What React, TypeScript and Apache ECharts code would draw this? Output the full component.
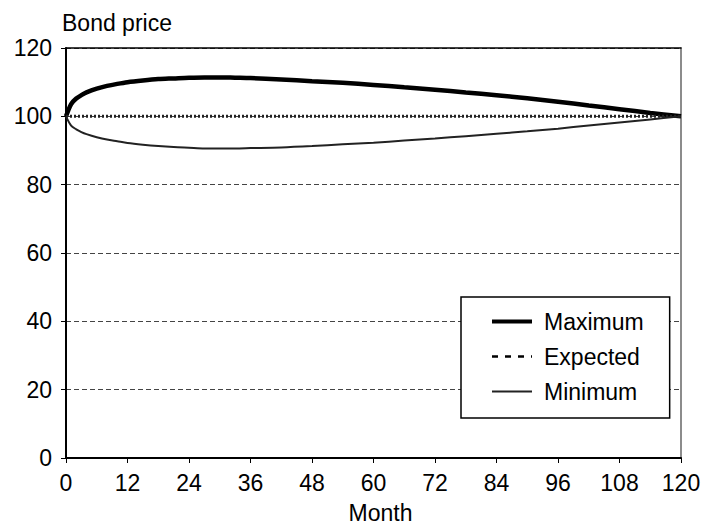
import React, { useEffect, useRef } from "react";
import * as echarts from "echarts";

const months = [0, 1, 2, 3, 4, 6, 8, 10, 12, 15, 18, 21, 24, 27, 30, 33, 36, 42, 48, 54, 60, 66, 72, 78, 84, 90, 96, 102, 108, 114, 120];
const maximum = [100, 103.6, 105.2, 106.2, 107, 108.1, 108.9, 109.5, 110, 110.5, 110.9, 111.1, 111.3, 111.4, 111.4, 111.3, 111.2, 110.8, 110.3, 109.8, 109.2, 108.5, 107.8, 107.0, 106.2, 105.3, 104.3, 103.2, 102.1, 101.0, 100];
const expected = [100, 100, 100, 100, 100, 100, 100, 100, 100, 100, 100, 100, 100, 100, 100, 100, 100, 100, 100, 100, 100, 100, 100, 100, 100, 100, 100, 100, 100, 100, 100];
const minimum = [100, 97.3, 96.2, 95.4, 94.8, 93.9, 93.2, 92.7, 92.2, 91.7, 91.3, 91.0, 90.8, 90.6, 90.6, 90.6, 90.7, 90.9, 91.3, 91.8, 92.3, 92.9, 93.5, 94.2, 94.9, 95.6, 96.4, 97.3, 98.2, 99.1, 100];

const seriesNames = ["Maximum", "Expected", "Minimum"];
const FONT = "'Liberation Sans', Arial, Helvetica, sans-serif";
const FS = 23;

export default function App() {
  const ref = useRef<HTMLDivElement>(null);
  useEffect(() => {
    if (!ref.current) return;
    const chart = echarts.init(ref.current, null, { renderer: "svg" });
    const pair = (ys: number[]) => months.map((m, i) => [m, ys[i]]);
    const hidden = { opacity: 0, color: "rgba(0,0,0,0)", borderWidth: 0 };
    chart.setOption({
      animation: false,
      backgroundColor: "#fff",
      textStyle: { fontFamily: FONT },
      title: {
        text: "Bond price",
        left: 56,
        top: 11,
        padding: [0, 0, 0, 6],
        textStyle: { fontSize: FS, fontWeight: "normal", color: "#000", fontFamily: FONT },
      },
      grid: { left: 66, top: 48, width: 615, height: 417 },
      legend: {
        orient: "vertical",
        left: 461,
        top: 297,
        backgroundColor: "#fff",
        borderColor: "#000",
        borderWidth: 1.5,
        borderRadius: 0,
        padding: [13, 26, 15, 29],
        itemGap: 12,
        itemWidth: 40,
        itemHeight: 14,
        textStyle: { fontSize: FS, color: "#000", fontFamily: FONT, padding: [0, 0, 0, 7] },
        data: [
          { name: seriesNames[0], itemStyle: hidden, lineStyle: { width: 4, color: "#000", type: "solid" } },
          { name: seriesNames[1], itemStyle: hidden, lineStyle: { type: [6, 7], width: 2.5, color: "#000" } },
          { name: seriesNames[2], itemStyle: hidden, lineStyle: { width: 2, color: "#222", type: "solid" } },
        ],
      },
      xAxis: [
        {
          type: "value",
          min: 0,
          max: 120,
          interval: 12,
          name: "Month",
          nameLocation: "middle",
          nameGap: 43,
          nameTextStyle: { fontSize: FS, color: "#000", fontFamily: FONT, padding: [0, 0, 0, 14] },
          axisLine: { onZero: false, lineStyle: { color: "#000", width: 2 } },
          axisTick: { length: 5, lineStyle: { color: "#000", width: 1 } },
          axisLabel: { fontSize: FS, color: "#000", margin: 13, fontFamily: FONT },
          splitLine: { show: false },
        },
        {
          type: "value",
          position: "top",
          min: 0,
          max: 120,
          interval: 12,
          axisLine: { onZero: false, lineStyle: { color: "#000", width: 1.5 } },
          axisTick: { show: false },
          axisLabel: { show: false },
          splitLine: { show: false },
        },
      ],
      yAxis: [
        {
          type: "value",
          min: 0,
          max: 120,
          interval: 20,
          axisLine: { show: true, onZero: false, lineStyle: { color: "#000", width: 2 } },
          axisTick: { show: true, length: 5, lineStyle: { color: "#000", width: 1 } },
          axisLabel: { fontSize: FS, color: "#000", margin: 14, fontFamily: FONT },
          splitLine: { show: true, lineStyle: { color: "#444", width: 1, type: [5, 3] } },
        },
        {
          type: "value",
          position: "right",
          min: 0,
          max: 120,
          interval: 20,
          axisLine: { show: true, onZero: false, lineStyle: { color: "#666", width: 1.5 } },
          axisTick: { show: false },
          axisLabel: { show: false },
          splitLine: { show: false },
        },
      ],
      series: [
        {
          name: seriesNames[0],
          type: "line",
          data: pair(maximum),
          smooth: 0.3,
          showSymbol: false,
          symbol: "none",
          lineStyle: { color: "#000", width: 4.5 },
          itemStyle: { color: "#000" },
          z: 3,
        },
        {
          name: seriesNames[1],
          type: "line",
          data: pair(expected),
          showSymbol: false,
          symbol: "none",
          lineStyle: { color: "#222", width: 3, type: [2, 2] },
          itemStyle: { color: "#000" },
          z: 4,
        },
        {
          name: seriesNames[2],
          type: "line",
          data: pair(minimum),
          smooth: 0.3,
          showSymbol: false,
          symbol: "none",
          lineStyle: { color: "#222", width: 2 },
          itemStyle: { color: "#222" },
          z: 3,
        },
      ],
    });
    return () => chart.dispose();
  }, []);
  return <div ref={ref} style={{ width: 707, height: 529, position: "absolute", left: 0, top: 0 }} />;
}
